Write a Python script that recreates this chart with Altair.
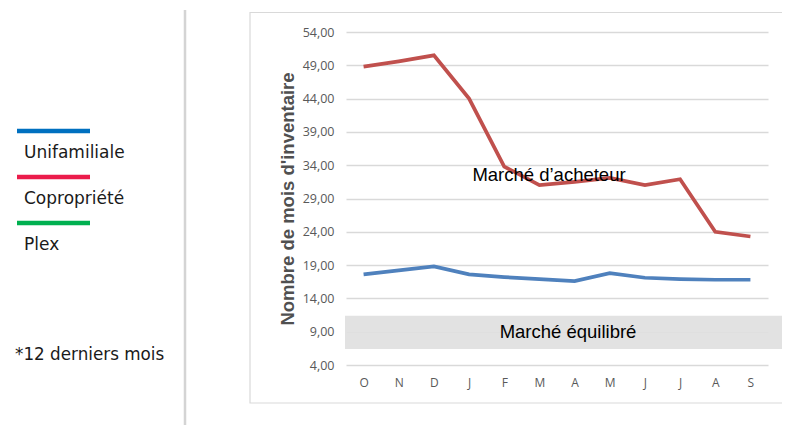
import altair as alt
import pandas as pd

# ---- data ----
months = ["Oct", "Nov", "Déc", "Jan", "Fév", "Mar", "Avr", "Mai", "Juin", "Juil", "Août", "Sep"]
unifamiliale = [17.6, 18.2, 18.8, 17.6, 17.2, 16.9, 16.6, 17.8, 17.1, 16.9, 16.8, 16.8]
copropriete = [48.8, 49.6, 50.5, 44.0, 33.8, 31.0, 31.5, 32.1, 31.0, 31.9, 24.0, 23.3]
series_names = ["Unifamiliale", "Copropriété"]
line_colors = ["#4F81BD", "#C0504D"]
legend_labels = ["Unifamiliale", "Copropriété", "Plex"]
legend_colors = ["#0070C0", "#EB1C4B", "#00B050"]
y_ticks = [4, 9, 14, 19, 24, 29, 34, 39, 44, 49, 54]
balanced_band = [6.4, 11.4]
annot_buyer = "Marché d\u2019acheteur"
annot_buyer_y = 32.5
annot_balanced = "Marché équilibré"
annot_balanced_y = 8.9
footnote = "*12 derniers mois"
y_title = "Nombre de mois d'inventaire"

W, H = 422, 333
GRID = "#D9D9D9"
TXT = "#595959"

rows = []
for name, vals in zip(series_names, [unifamiliale, copropriete]):
    for m, v in zip(months, vals):
        rows.append({"mois": m, "valeur": v, "serie": name})
df = pd.DataFrame(rows)

one = pd.DataFrame({"k": [0]})

x_enc = alt.X("mois:N", sort=months,
              scale=alt.Scale(type="point", padding=0.5),
              axis=alt.Axis(title=None, labelExpr="upper(substring(datum.label,0,1))",
                            labelAngle=0, labelFont="Open Sans", labelFontSize=12,
                            labelColor=TXT, labelPadding=12, ticks=False, domain=False,
                            grid=False, labelOverlap=False))
y_enc = alt.Y("valeur:Q",
              scale=alt.Scale(domain=[4, 54], nice=False, zero=False),
              axis=alt.Axis(values=y_ticks, tickCount=30, title=y_title,
                            labelExpr="replace(format(datum.value,'.2f'),'.',',')",
                            labelFont="Open Sans", labelFontSize=12.5, labelColor=TXT,
                            labelPadding=12, ticks=False, domain=False,
                            labelOverlap=False,
                            grid=True, gridColor=GRID, gridWidth=1.3,
                            titleFont="Liberation Sans", titleFontSize=18.5,
                            titleFontWeight="bold", titleColor="#505050", titlePadding=5))

# frame around chart
frame = alt.Chart(one).mark_rect(fill=None, stroke=GRID, strokeWidth=1.2).encode(
    x=alt.value(-96), x2=alt.value(470), y=alt.value(-19.5), y2=alt.value(371))

# vertical separator
sep = alt.Chart(one).mark_rule(color="#D4D4D4", strokeWidth=2.5).encode(
    x=alt.value(-161), y=alt.value(-22), y2=alt.value(420))

band_df = pd.DataFrame({"y0": [balanced_band[0]], "y1": [balanced_band[1]]})
band = alt.Chart(band_df).mark_rect(color="#E0E0E0", opacity=0.92).encode(
    x=alt.value(-1), x2=alt.value(470),
    y=alt.Y("y0:Q", scale=alt.Scale(domain=[4, 54], nice=False, zero=False)),
    y2="y1:Q")

lines = alt.Chart(df).mark_line(strokeWidth=3.7).encode(
    x=x_enc, y=y_enc,
    color=alt.Color("serie:N", scale=alt.Scale(domain=series_names, range=line_colors),
                    legend=None),
    detail="serie:N")

t_buyer = alt.Chart(pd.DataFrame({"t": [annot_buyer], "y": [annot_buyer_y]})).mark_text(
    font="Liberation Sans", fontSize=18.5, color="#000000", align="center", baseline="middle"
).encode(text="t:N", x=alt.value(203), y="y:Q")

t_bal = alt.Chart(pd.DataFrame({"t": [annot_balanced], "y": [annot_balanced_y]})).mark_text(
    font="Liberation Sans", fontSize=18.5, color="#000000", align="center", baseline="middle"
).encode(text="t:N", x=alt.value(222), y="y:Q")

layers = [frame, sep, band, lines, t_buyer, t_bal]

# manual legend on the left
for i, (lab, col) in enumerate(zip(legend_labels, legend_colors)):
    ly = 99 + 46 * i
    layers.append(alt.Chart(one).mark_rule(color=col, strokeWidth=4.5).encode(
        x=alt.value(-329), x2=alt.value(-256), y=alt.value(ly)))
    layers.append(alt.Chart(pd.DataFrame({"t": [lab]})).mark_text(
        font="DejaVu Sans", fontSize=17, color="#1a1a1a", align="left",
        baseline="alphabetic").encode(
        text="t:N", x=alt.value(-322), y=alt.value(ly + 27)))

layers.append(alt.Chart(pd.DataFrame({"t": [footnote]})).mark_text(
    font="DejaVu Sans", fontSize=16.8, color="#1a1a1a", align="left",
    baseline="alphabetic").encode(text="t:N", x=alt.value(-331), y=alt.value(328)))

chart = alt.layer(*layers).resolve_scale(y="shared").properties(
    width=W, height=H,
    autosize=alt.AutoSizeParams(type="none"),
    padding={"left": 338, "top": 24, "right": 14, "bottom": 60},
    background="#FFFFFF",
).configure_view(stroke=None)

chart.save("out.html", embed_options={"renderer": "svg", "actions": False})
